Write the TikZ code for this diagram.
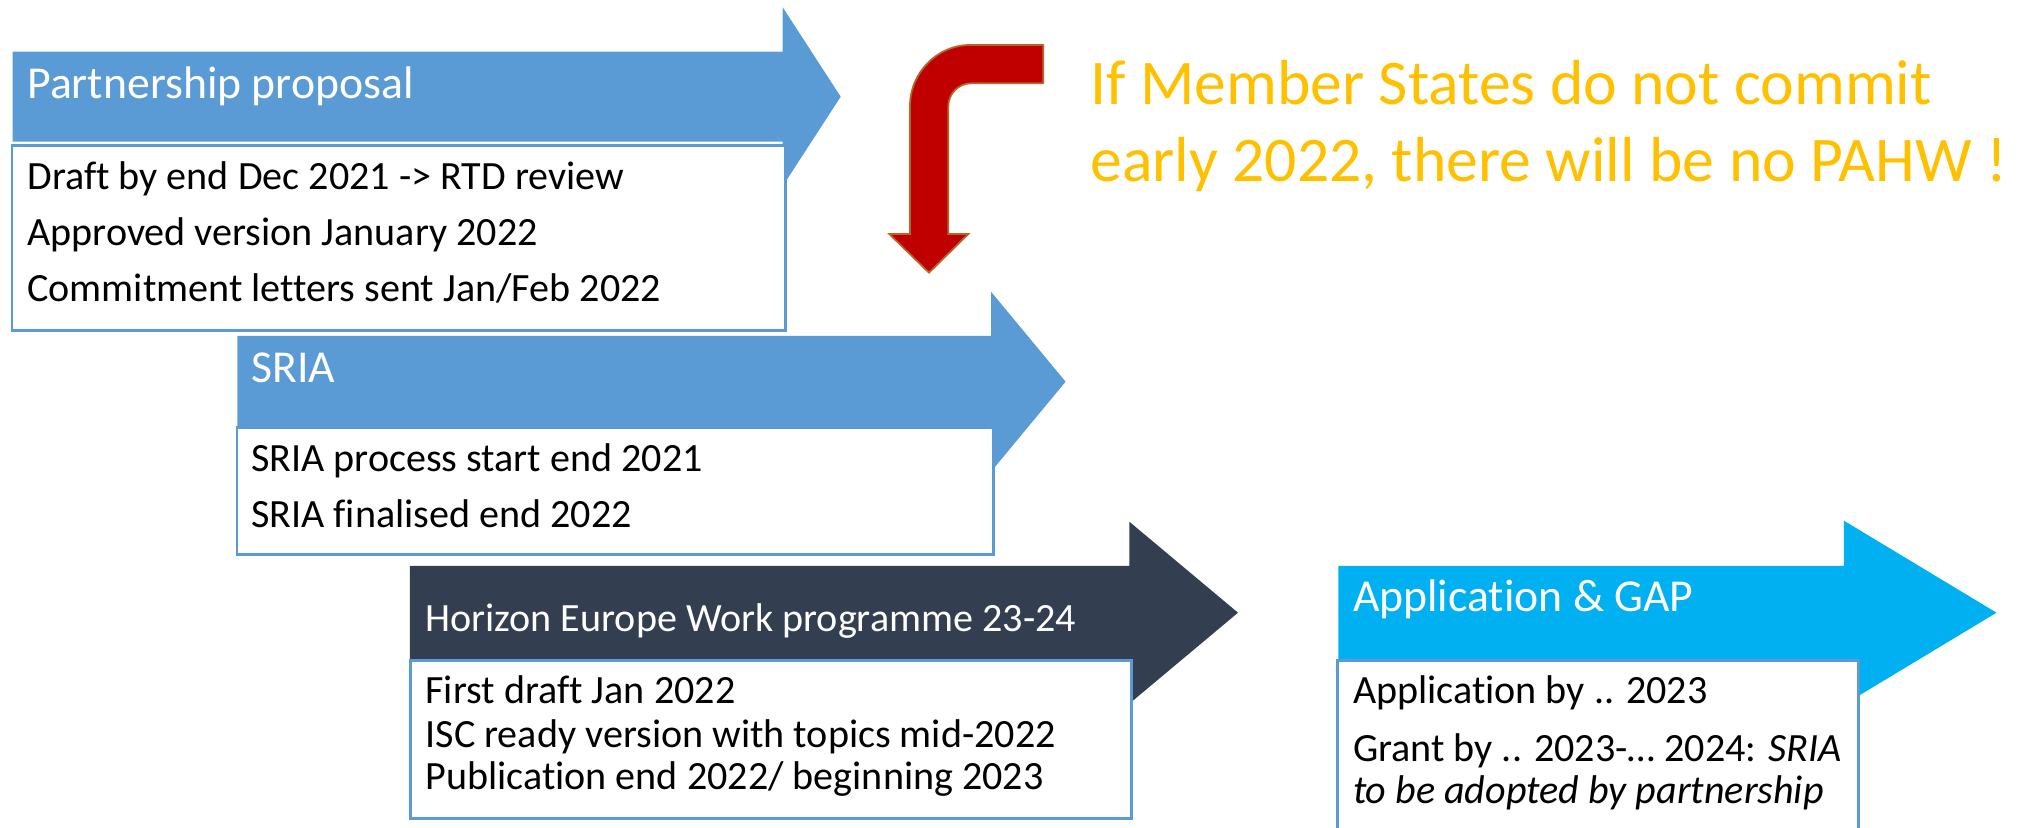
\documentclass[tikz,border=0pt]{standalone}
\usepackage{fontspec}
\setmainfont{Carlito}[Ligatures=NoCommon]

\definecolor{paleblue}{HTML}{5B9BD5}
\definecolor{slate}{HTML}{333F50}
\definecolor{skyblue}{HTML}{00B0F0}
\definecolor{gold}{HTML}{FFC000}
\definecolor{darkred}{HTML}{C00000}
\definecolor{rust}{HTML}{B8652A}

\begin{document}
\begin{tikzpicture}[x=0.01cm, y=-0.01cm,
		box/.style={rectangle, draw=paleblue, fill=white, line width=0.8pt, inner sep=0, anchor=north west},
		title/.style={anchor=base west, inner sep=0, text=white, font=\fontsize{13}{15.6}\selectfont},
		boxtext/.style={anchor=base west, inner sep=0, font=\fontsize{11.4}{13.7}\selectfont},
		warning/.style={anchor=base west, inner sep=0, text=gold, font=\fontsize{18.1}{21.7}\selectfont}]
		\useasboundingbox (0, 0) rectangle (2032, 828);

		% partnership proposal
		\fill[paleblue] (12.6, 51.7) -- (782.7, 51.7) -- (782.7, 7.3) -- (840.7, 96.7) -- (782.7, 186.1) -- (782.7, 141.7) -- (12.6, 141.7) -- cycle;
		\node at (10.5,  144)   [box, minimum width=7.731cm, minimum height=1.853cm] (partnership_box) {};
		\node at (26.7,  98.3)  [title]   (partnership_title) {Partnership proposal};
		\node at (26.7,  189.3) [boxtext] (partnership_draft)     {Draft by end Dec 2021 -> RTD review};
		\node at (26.7,  246)   [boxtext] (partnership_approved)  {Approved version January 2022};
		\node at (26.7,  301.7) [boxtext] (partnership_letters)   {Commitment letters sent Jan/Feb 2022};

		% SRIA
		\fill[paleblue] (237.3, 336) -- (991, 336) -- (991, 291.7) -- (1065.6, 381.7) -- (991, 471.7) -- (991, 427.4) -- (237.3, 427.4) -- cycle;
		\node at (235.6, 425.7) [box, minimum width=7.564cm, minimum height=1.276cm] (sria_box) {};
		\node at (250.5, 382.7) [title]   (sria_title) {SRIA};
		\node at (250.5, 471.7) [boxtext] (sria_start)     {SRIA process start end 2021};
		\node at (250.5, 527.3) [boxtext] (sria_finalised) {SRIA finalised end 2022};

		% work programme
		\fill[slate] (409.8, 566) -- (1129.3, 566) -- (1129.3, 521.7) -- (1238, 612.7) -- (1129.3, 703.7) -- (1129.3, 659.4) -- (409.8, 659.4) -- cycle;
		\node at (408.7, 659)   [box, minimum width=7.206cm, minimum height=1.583cm] (workprog_box) {};
		\node at (424.8, 631.7) [title, font=\fontsize{11.4}{13.7}\selectfont] (workprog_title) {Horizon Europe Work programme 23-24};
		\node at (424.8, 704)   [boxtext] (workprog_draft)       {First draft Jan 2022};
		\node at (424.8, 747.3) [boxtext] (workprog_isc)         {ISC ready version with topics mid-2022};
		\node at (424.8, 790)   [boxtext] (workprog_publication) {Publication end 2022/ beginning 2023};

		% application and GAP
		\fill[skyblue] (1338.3, 566) -- (1843.9, 566) -- (1843.9, 520.7) -- (1996.5, 612.7) -- (1843.9, 704.7) -- (1843.9, 659.4) -- (1338.3, 659.4) -- cycle;
		\node at (1336.4, 659)   [box, minimum width=5.201cm, minimum height=1.81cm] (application_box) {};
		\node at (1352.3, 611.7) [title]   (application_title) {Application \& GAP};
		\node at (1352.3, 704)   [boxtext] (application_by)    {Application by .. 2023};
		\node at (1352.3, 761.7) [boxtext] (application_grant) {Grant by .. 2023-… 2024: \textit{SRIA}};
		\node at (1352.3, 804)   [boxtext] (application_adopt) {\textit{to be adopted by partnership}};

		% bent arrow and warning
		\draw[fill=darkred, draw=rust, line width=0.5pt] (1043.3, 45) -- (970, 45) .. controls (937, 45) and (910, 73) .. (910, 106)
			-- (910, 234) -- (889.3, 234) -- (929, 272.7) -- (968.3, 234) -- (948.3, 234) -- (948.3, 106.3)
			.. controls (948.3, 93.6) and (958.6, 83.3) .. (971.3, 83.3) -- (1043.3, 83.3) -- cycle;
		\node at (1089.7, 105)   [warning] (warning_line1) {If Member States do not commit};
		\node at (1089.7, 181.7) [warning] (warning_line2) {early 2022, there will be no PAHW !};
	\end{tikzpicture}
\end{document}
